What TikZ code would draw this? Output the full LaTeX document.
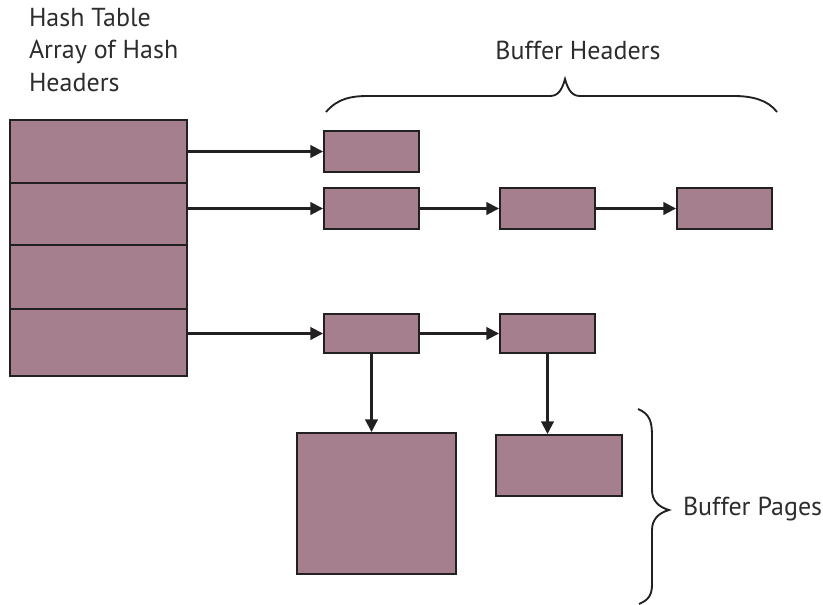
\documentclass[tikz,border=0pt]{standalone}
\usepackage{fontspec}
\setmainfont{PT Sans}
\usetikzlibrary{arrows.meta}

\definecolor{mauve}{RGB}{166,127,142}
\definecolor{ink}{RGB}{35,32,34}
\definecolor{txt}{RGB}{45,45,45}

\tikzset{every picture/.style={line width=1.5pt}}
\tikzset{
  slot/.style={draw=ink, fill=mauve, rectangle, inner sep=0pt},
  link/.style={draw=ink, line width=1.6pt, -{Triangle[length=9.5pt,width=9.5pt]}},
  lbl/.style={text=txt, font=\fontsize{19.5}{24.4}\selectfont, inner sep=0pt}
}

\begin{document}
\begin{tikzpicture}[x=0.75pt,y=0.75pt,yscale=-1,xscale=1]
\useasboundingbox (0,0) rectangle (823,604);

% Hash table cells
\node [slot, minimum width=132.75pt, minimum height=47.25pt] (ht1) at (98.5,151.5) {};
\node [slot, minimum width=132.75pt, minimum height=46.5pt] (ht2) at (98.5,214) {};
\node [slot, minimum width=132.75pt, minimum height=48pt] (ht3) at (98.5,277) {};
\node [slot, minimum width=132.75pt, minimum height=50.25pt] (ht4) at (98.5,342.5) {};

% Buffer headers
\node [slot, minimum width=71.25pt, minimum height=30.75pt] (bh11) at (371.5,151.5) {};
\node [slot, minimum width=71.25pt, minimum height=30.75pt] (bh21) at (371.5,208.5) {};
\node [slot, minimum width=71.25pt, minimum height=30.75pt] (bh22) at (547.5,208.5) {};
\node [slot, minimum width=71.25pt, minimum height=30.75pt] (bh23) at (724.5,208.5) {};
\node [slot, minimum width=71.25pt, minimum height=29.25pt] (bh41) at (371.5,333.5) {};
\node [slot, minimum width=71.25pt, minimum height=29.25pt] (bh42) at (547.5,333.5) {};

% Buffer pages
\node [slot, minimum width=119.25pt, minimum height=105.75pt] (pg1) at (376.5,503.5) {};
\node [slot, minimum width=94.5pt, minimum height=45.75pt] (pg2) at (559,465.5) {};

% Links
\draw [link] (ht1.east |- bh11.west) -- (bh11.west);
\draw [link] (ht2.east |- bh21.west) -- (bh21.west);
\draw [link] (ht4.east |- bh41.west) -- (bh41.west);
\draw [link] (bh21.east) -- (bh22.west);
\draw [link] (bh22.east) -- (bh23.west);
\draw [link] (bh41.east) -- (bh42.west);
\draw [link] (bh41.south) -- (bh41.south |- pg1.north);
\draw [link] (bh42.south) -- (bh42.south |- pg2.north);

% Braces
\draw [draw=ink, line width=1.4pt] (326,112) .. controls (338,98) and (352,96) .. (368,96) -- (550,96) .. controls (558,96) and (562,90) .. (565,79) .. controls (568,90) and (572,96) .. (580,96) -- (734,96) .. controls (752,96) and (768,100) .. (777,112) ;
\draw [draw=ink, line width=1.4pt] (638,409) .. controls (650,414) and (652,422) .. (652,436) -- (652,490) .. controls (652,500) and (658,507) .. (669,510) .. controls (658,513) and (652,520) .. (652,530) -- (652,584) .. controls (652,596) and (648,600) .. (639,604) ;

% Text Node
\node [lbl, anchor=north west, align=left] (httxt) at (28,7) {Hash Table\\Array of Hash\\Headers};
% Text Node
\node [lbl] (bhtxt) at (578,50) {Buffer Headers};
% Text Node
\node [lbl, anchor=west] (pgtxt) at (682,509) {Buffer Pages};

\end{tikzpicture}
\end{document}
